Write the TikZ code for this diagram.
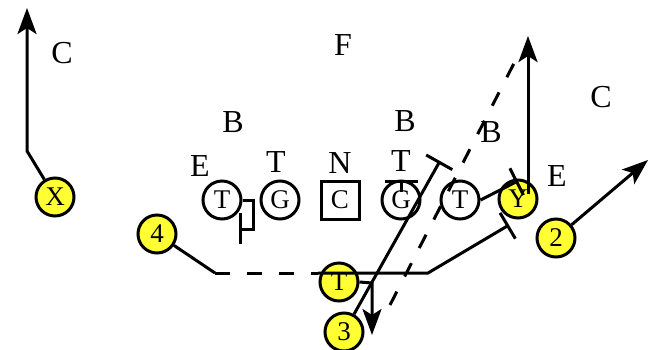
\documentclass[tikz,border=0pt]{standalone}
\usepackage{fontspec}
\setmainfont{Liberation Serif}
\usetikzlibrary{arrows.meta}
\definecolor{padyellow}{RGB}{255,255,51}

\begin{document}
\begin{tikzpicture}[
  x=1pt, y=-1pt,
  player/.style={circle, draw, line width=3pt, minimum size=38pt, inner sep=0pt,
    fill=white, font=\fontsize{27}{27}\selectfont},
  back/.style={player, fill=padyellow},
  snapper/.style={player, rectangle, minimum size=38pt},
  defence/.style={font=\fontsize{32}{32}\selectfont, inner sep=0pt},
  route/.style={line width=3pt},
  arrow/.style={route, -{Stealth[length=26pt, width=19pt, inset=6pt]}},
  block/.style={route, -{Bar[width=30pt]}},
  fake/.style={route, dash pattern=on 15pt off 17pt}
]
  \useasboundingbox (0,0) rectangle (667,349);

  \node[defence] (cL) at (62,53) {C};
  \node[defence] (fS) at (343,45) {F};
  \node[defence] (bL) at (233,122) {B};
  \node[defence] (eL) at (200,166) {E};
  \node[defence] (tL) at (276,162) {T};
  \node[defence] (nG) at (340,163) {N};
  \node[defence] (bM) at (405,121) {B};
  \node[defence] (tR) at (401,161) {T};
  \node[defence] (bR) at (491,132) {B};
  \node[defence] (eR) at (557,176) {E};
  \node[defence] (cR) at (601,97) {C};

  \node[player] (lT) at (222,200) {T};
  \node[player] (lG) at (280,200) {G};
  \node[snapper] (ctr) at (340,200) {C};
  \node[player] (rG) at (401,200) {G};
  \node[player] (rT) at (460,200) {T};
  \node[back] (rX) at (55,197) {X};
  \node[back] (rY) at (518,199) {Y};
  \node[back] (b4) at (157,234) {4};
  \node[back] (b2) at (556,238) {2};
  \node[back] (qb) at (339,282) {T};
  \node[back] (b3) at (344,332) {3};

  \coordinate (xcut) at (27,151);
  \coordinate (xtip) at (27,8);
  \coordinate (ybase) at (528,194);
  \coordinate (ytip) at (528,36);
  \coordinate (tip2) at (648,160);
  \coordinate (yblk) at (518,181);
  \coordinate (b3blk) at (440,161);
  \coordinate (pass) at (390,305);
  \coordinate (sweep1) at (215,273);
  \coordinate (sweep2) at (318,273);
  \coordinate (sweep3) at (428,273);
  \coordinate (sweep4) at (509,225);
  \coordinate (handoff) at (372,283);
  \coordinate (fall) at (372,335);
  \coordinate (pull1) at (253,229);
  \coordinate (pull2) at (240,229);
  \coordinate (pull3) at (240,213);
  \coordinate (pull4) at (240,244);

  \draw[arrow] (rX) -- (xcut) -- (xtip);
  \draw[arrow] (ybase) -- (ytip);
  \draw[arrow] (b2) -- (tip2);
  \draw[block] (rT.east) -- (yblk);
  \draw[block] (b3) -- (b3blk);
  \draw[fake, shorten >=18pt] (pass) -- (ytip);
  \draw[route] (b4) -- (sweep1);
  \draw[fake] (sweep1) -- (sweep2);
  \draw[block] (sweep2) -- (sweep3) -- (sweep4);
  \draw[arrow] (qb.east) -- (handoff) -- (fall);
  \draw[route] (lT.east) -| (pull1) -- (pull2);
  \draw[route] (pull3) -- (pull4);
  \draw[route, -{Bar[width=33pt]}] (rG.center) ++(0,-8) -- (rG.north);
\end{tikzpicture}
\end{document}
